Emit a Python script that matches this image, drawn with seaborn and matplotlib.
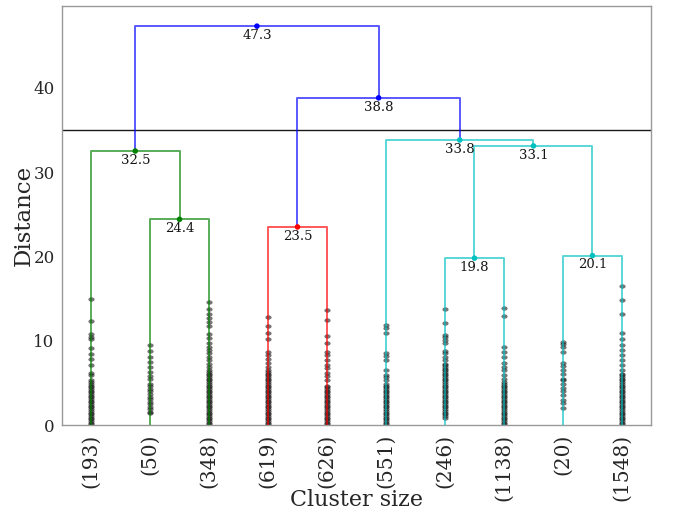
import matplotlib
matplotlib.use("Agg")
import matplotlib.pyplot as plt
from matplotlib.path import Path
from matplotlib.markers import MarkerStyle
from matplotlib.transforms import Affine2D
import pandas as pd
import seaborn as sns

# Truncated leaves (cluster sizes), left to right
cluster_labels = ["(193)", "(50)", "(348)", "(619)", "(626)",
                  "(551)", "(246)", "(1138)", "(20)", "(1548)"]

# Linkage above the truncation level: leaves are 0..9, merge k creates node 10+k
merge_left = [1, 0, 3, 6, 8, 13, 5, 12, 11]
merge_right = [2, 10, 4, 7, 9, 14, 15, 16, 17]
merge_dist = [24.4, 32.5, 23.5, 19.8, 20.1, 33.1, 33.8, 38.8, 47.3]
merge_color = ["g", "g", "r", "c", "c", "c", "c", "b", "b"]
cut_height = 35

# Heights of the merges hidden inside each truncated leaf
c_193 = [15.0, 12.3, 10.8, 10.5, 10.2, 9.1, 8.4, 7.9, 7.1, 6.2, 5.9,
         5.3, 5.1, 4.9, 4.7, 4.5, 4.3, 4.1, 3.9, 3.7, 3.5, 3.3, 3.1, 2.9, 2.7,
         2.5, 2.3, 2.1, 1.9, 1.7, 1.5, 1.3, 1.1, 0.9, 0.7, 0.5, 0.3, 0.1]
c_50 = [9.5, 8.8, 8.1, 7.5, 6.9, 6.3, 5.8, 5.5,
        4.9, 4.6, 4.3, 4.0, 3.7, 3.4, 3.1, 2.8, 2.5, 2.2, 1.9, 1.6, 1.4]
c_348 = [14.6, 13.8, 13.2, 12.7, 12.2, 11.7, 10.8, 10.3, 9.8, 9.3, 8.9, 8.5,
         8.1, 7.7, 7.3, 6.9, 6.5, 6.3, 6.1, 5.9, 5.7, 5.5, 5.3, 5.1, 4.9, 4.7,
         4.5, 4.3, 4.1, 3.9, 3.7, 3.5, 3.3, 3.1, 2.9, 2.7, 2.5, 2.3, 2.1, 1.9,
         1.7, 1.5, 1.3, 1.1, 0.9, 0.7, 0.5, 0.3, 0.1]
c_619 = [12.8, 11.7, 10.9, 10.2, 8.7, 8.3, 7.9, 7.4, 6.9,
         6.5, 6.3, 6.1, 5.9, 5.7, 5.5, 5.3, 5.1, 4.9, 4.7, 4.5, 4.3, 4.1, 3.9,
         3.7, 3.5, 3.3, 3.1, 2.9, 2.7, 2.5, 2.3, 2.1, 1.9, 1.7, 1.5, 1.3, 1.1,
         0.9, 0.7, 0.5, 0.3, 0.1]
c_626 = [13.6, 12.5, 10.6, 9.7, 8.7, 8.3, 7.7, 7.1, 6.8, 6.2, 5.8, 5.3,
         4.7, 4.5, 4.3, 4.1, 3.9, 3.7, 3.5, 3.3, 3.1, 2.9, 2.7, 2.5, 2.3, 2.1,
         1.9, 1.7, 1.5, 1.3, 1.1, 0.9, 0.7, 0.5, 0.3, 0.1]
c_551 = [11.9, 11.5, 10.9, 8.5, 8.2, 7.7, 6.6, 6.0, 5.7, 5.3,
         4.9, 4.7, 4.5, 4.3, 4.1, 3.9, 3.7, 3.5, 3.3, 3.1, 2.9, 2.7, 2.5, 2.3,
         2.1, 1.9, 1.7, 1.5, 1.3, 1.1, 0.9, 0.7, 0.5, 0.3, 0.1]
c_246 = [13.8, 12.1, 10.7, 10.4, 10.1, 9.7, 8.8, 8.5, 8.1, 7.7, 7.3,
         7.1, 6.9, 6.7, 6.5, 6.3, 6.1, 5.9, 5.7, 5.5, 5.3, 5.1, 4.9, 4.7, 4.5,
         4.3, 4.1, 3.9, 3.7, 3.5, 3.3, 3.1, 2.9, 2.7, 2.5, 2.3, 2.1, 1.9, 1.7,
         1.5, 1.3, 1.1, 0.9]
c_1138 = [13.9, 13.0, 9.3, 8.7, 8.1, 7.4, 6.9, 6.5, 6.0, 5.5,
          5.1, 4.9, 4.7, 4.5, 4.3, 4.1, 3.9, 3.7, 3.5, 3.3, 3.1, 2.9, 2.7, 2.5,
          2.3, 2.1, 1.9, 1.7, 1.5, 1.3, 1.1, 0.9, 0.7, 0.5, 0.3, 0.1]
c_20 = [9.9, 9.6, 9.3, 8.7, 7.4, 7.0, 6.5, 6.1, 5.5, 5.3, 4.9, 4.4, 4.0,
        3.6, 3.0, 2.6, 2.0]
c_1548 = [16.5, 14.8, 13.2, 10.9, 10.2, 9.5, 8.9, 8.3, 7.7, 7.1, 6.6,
          6.1, 5.9, 5.7, 5.5, 5.3, 5.1, 4.9, 4.7, 4.5, 4.3, 4.1, 3.9, 3.7, 3.5,
          3.3, 3.1, 2.9, 2.7, 2.5, 2.3, 2.1, 1.9, 1.7, 1.5, 1.3, 1.1, 0.9, 0.7,
          0.5, 0.3, 0.1]
contracted = [c_193, c_50, c_348, c_619, c_626, c_551, c_246, c_1138, c_20, c_1548]

# Classic single-letter link colours as explicit RGB
link_palette = {"g": "#008000", "r": "#ff0000", "c": "#00c0c0", "b": "#0000ff"}

sns.set_theme(style="white")
plt.rcParams["font.family"] = ["DejaVu Serif"]

fig, ax = plt.subplots(figsize=(6.73, 5.16), dpi=100)
fig.subplots_adjust(left=0.0914, right=0.968, top=0.988, bottom=0.176)

# Leaf positions follow the usual dendrogram convention (5, 15, 25, ...)
n_leaves = len(cluster_labels)
xpos = {i: 5 + 10 * i for i in range(n_leaves)}
hpos = {i: 0.0 for i in range(n_leaves)}

link_rows = []
for k, (l, r, d, c) in enumerate(zip(merge_left, merge_right, merge_dist, merge_color)):
    node = n_leaves + k
    xl, xr = xpos[l], xpos[r]
    ax.plot([xl, xl, xr, xr], [hpos[l], d, d, hpos[r]],
            color=link_palette[c], lw=1.4, alpha=0.65, zorder=3)
    xpos[node] = (xl + xr) / 2
    hpos[node] = d
    link_rows.append({"x": xpos[node], "dist": d, "color": c})

links = pd.DataFrame(link_rows)
sns.scatterplot(data=links, x="x", y="dist", hue="color", palette=link_palette,
                s=16, linewidth=0, legend=False, ax=ax, zorder=4)
for _, row in links.iterrows():
    ax.annotate(f"{row['dist']:.3g}", (row["x"], row["dist"]), xytext=(0, -2),
                textcoords="offset points", va="top", ha="center", fontsize=9.5,
                color="#151515")

# Contraction marks: flat translucent ellipses on each truncated leaf
marks = pd.DataFrame(
    [{"x": xpos[i], "height": h} for i, vals in enumerate(contracted) for h in vals]
)
ellipse = Path.unit_circle().transformed(Affine2D().scale(1.0, 0.7))
sns.scatterplot(data=marks, x="x", y="height", marker=MarkerStyle(ellipse),
                color="k", alpha=0.6, s=20, linewidth=0, ax=ax, zorder=2)

ax.axhline(cut_height, color="k", lw=1.0, zorder=1)

ax.set_xlim(0, 100)
ax.set_ylim(0, max(merge_dist) * 1.05)
ax.set_xticks([xpos[i] for i in range(n_leaves)])
ax.set_xticklabels(cluster_labels, rotation=90, fontsize=14.5)
ax.set_yticks([0, 10, 20, 30, 40])
ax.tick_params(axis="y", labelsize=12, length=3, pad=2, color="0.6")
ax.tick_params(axis="x", length=0, pad=6)
ax.set_xlabel("Cluster size", fontsize=16)
ax.xaxis.set_label_coords(0.5, -0.152)
ax.set_ylabel("Distance", fontsize=16.5, labelpad=-1)
for sp in ax.spines.values():
    sp.set_color("0.6")
    sp.set_linewidth(1.0)

fig.savefig("out.png", dpi=100)
